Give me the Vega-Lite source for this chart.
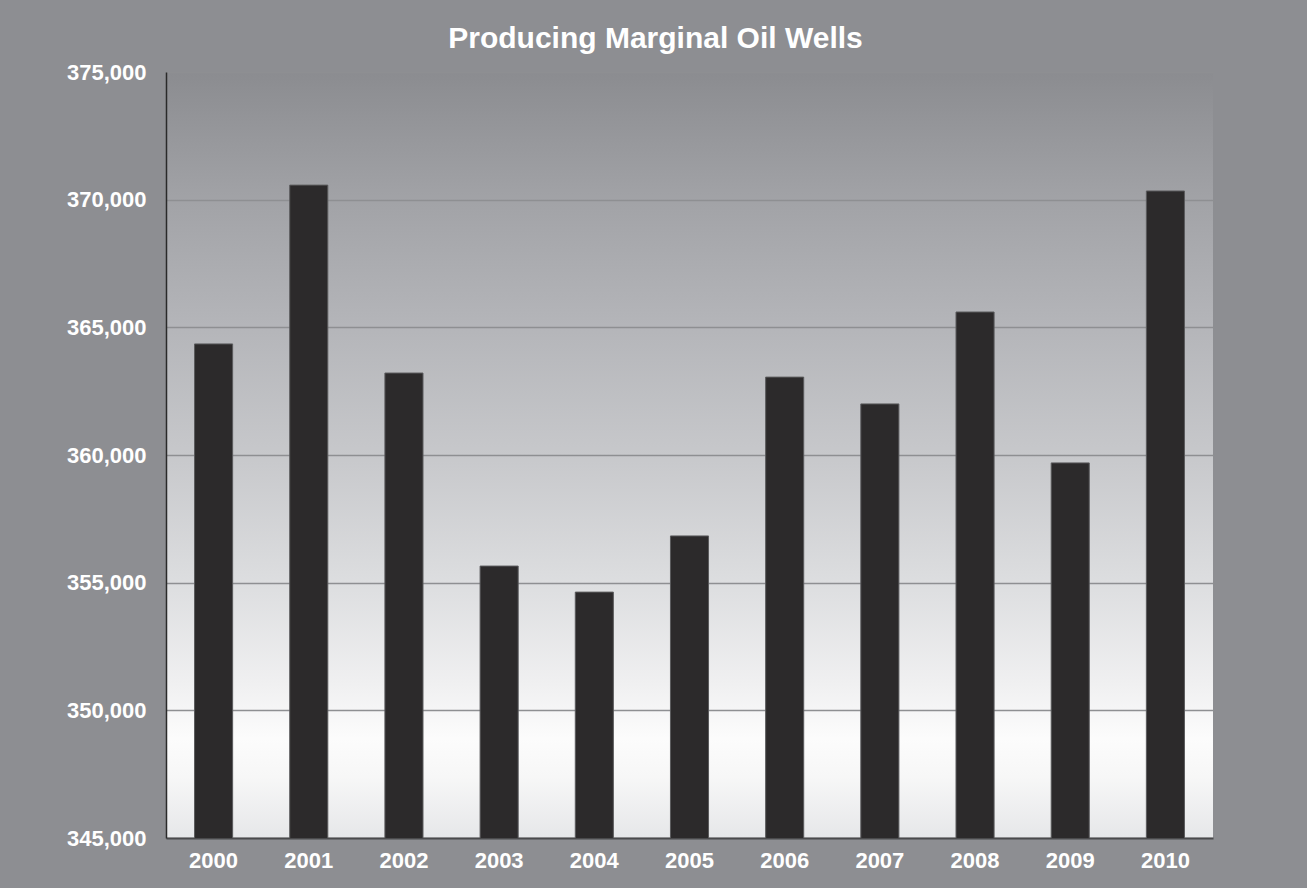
{
  "$schema": "https://vega.github.io/schema/vega-lite/v6.json",
  "autosize": {"type": "none"},
  "width": 1047,
  "height": 766,
  "padding": {"left": 166, "top": 72, "right": 94, "bottom": 50},
  "background": "#8d8e92",
  "title": {
    "text": "Producing Marginal Oil Wells",
    "anchor": "middle",
    "frame": "group",
    "dx": -34,
    "offset": 7,
    "font": "Liberation Sans",
    "fontSize": 30,
    "fontWeight": "bold",
    "color": "#ffffff"
  },
  "config": {
    "view": {
      "stroke": null,
      "fill": {
        "gradient": "linear",
        "x1": 0, "y1": 0, "x2": 0, "y2": 1,
        "stops": [
          {"offset": 0, "color": "#8b8c90"},
          {"offset": 0.17, "color": "#a2a3a7"},
          {"offset": 0.33, "color": "#b4b5b9"},
          {"offset": 0.5, "color": "#c7c8cb"},
          {"offset": 0.67, "color": "#dddee0"},
          {"offset": 0.8, "color": "#f0f0f1"},
          {"offset": 0.87, "color": "#fcfcfc"},
          {"offset": 0.92, "color": "#f7f7f7"},
          {"offset": 1, "color": "#e6e7e9"}
        ]
      }
    },
    "axis": {
      "labelFont": "Liberation Sans",
      "labelFontWeight": "bold",
      "labelFontSize": 22,
      "labelColor": "#ffffff",
      "ticks": false,
      "title": null
    }
  },
  "data": {
    "values": [
      {"year": "2000", "wells": 364350},
      {"year": "2001", "wells": 370570},
      {"year": "2002", "wells": 363210},
      {"year": "2003", "wells": 355650},
      {"year": "2004", "wells": 354630},
      {"year": "2005", "wells": 356830},
      {"year": "2006", "wells": 363050},
      {"year": "2007", "wells": 362000},
      {"year": "2008", "wells": 365600},
      {"year": "2009", "wells": 359690},
      {"year": "2010", "wells": 370340}
    ]
  },
  "mark": {"type": "bar", "fill": "#2c2a2b", "stroke": "#5a5a5c", "strokeWidth": 1, "clip": true},
  "encoding": {
    "x": {
      "field": "year",
      "type": "ordinal",
      "scale": {"paddingInner": 0.6, "paddingOuter": 0.3},
      "axis": {
        "labelAngle": 0,
        "labelPadding": 12,
        "domainColor": "#4a4a4c",
        "domainWidth": 2,
        "grid": false
      }
    },
    "y": {
      "field": "wells",
      "type": "quantitative",
      "scale": {"domain": [345000, 375000], "zero": false, "nice": false},
      "axis": {
        "values": [345000, 350000, 355000, 360000, 365000, 370000, 375000],
        "format": ",d",
        "labelPadding": 20,
        "domainColor": "#2a2a2a",
        "domainWidth": 1.5,
        "grid": true,
        "gridColor": "#8e8f92",
        "gridWidth": 1.5
      }
    }
  }
}
